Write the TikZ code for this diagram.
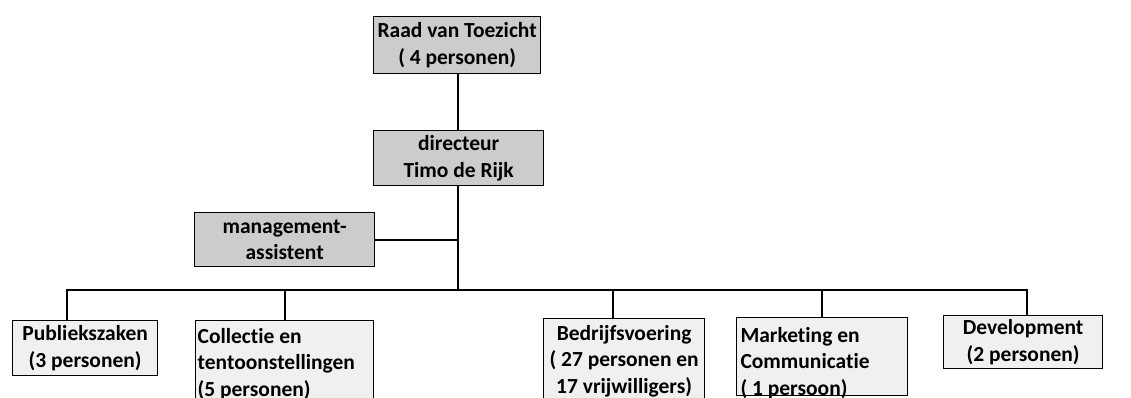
\documentclass[tikz,border=0pt]{standalone}
\usepackage{fontspec}
\setmainfont{Carlito}[Ligatures=NoCommon]
\begin{document}
\begin{tikzpicture}[x=1pt,y=-1pt,
  box/.style={draw, line width=1.3pt, anchor=north west, inner xsep=3pt, inner ysep=0pt,
    font=\bfseries\fontsize{21.5}{26.5}\selectfont, align=center},
  dark/.style={fill=black!20},
  light/.style={fill=black!6},
  txt/.style={inner sep=0pt, font=\bfseries\fontsize{21.5}{26.5}\selectfont},
  link/.style={line width=1.8pt}]
\useasboundingbox (0,0) rectangle (1131,398);
\clip (0,0) rectangle (1131,398);
% top part
\node[box,dark,minimum width=167pt,minimum height=57pt] (raad) at (373,16) {Raad van Toezicht\\( 4 personen)};
\node[box,dark,minimum width=170pt,minimum height=55pt] (dir) at (373,130) {directeur\\Timo de Rijk};
\node[box,dark,minimum width=180pt,minimum height=54pt] (mgmt) at (194,212) {management-\\assistent};
% bottom row
\node[box,light,minimum width=145pt,minimum height=55pt] (publ) at (12,320) {Publiekszaken\\(3 personen)};
\node[box,light,minimum width=178pt,minimum height=86pt,text width=174pt,align=flush left,inner xsep=2pt] (coll) at (195,320) {Collectie en\\tentoonstellingen\\(5 personen)};
\node[box,light,minimum width=161pt,minimum height=85pt] (bedr) at (543,318) {Bedrijfsvoering\\( 27 personen en\\17 vrijwilligers)};
\node[box,light,minimum width=171pt,minimum height=78pt] (mark) at (736,317) {};
\node[txt,text width=165pt,align=flush left] (markt) at (823,363) {Marketing en\\Communicatie\\( 1 persoon)};
\node[box,light,minimum width=159pt,minimum height=53pt] (dev) at (943,315) {Development\\(2 personen)};
% connectors
\coordinate (hub) at (458,290);
\coordinate (bL) at (67,290);
\coordinate (bB) at (613,290);
\coordinate (bR) at (1027,290);
\draw[link] (raad.south -| hub) -- (dir.north -| hub);
\draw[link] (dir.south -| hub) -- (hub);
\draw[link] (mgmt.east) -- (mgmt.east -| hub);
\draw[link] (publ.north west -| bL) -- (bL) -- (bR) -- (dev.north west -| bR);
\draw[link] (coll.north) -- (coll.north |- hub);
\draw[link] (bB) -- (bedr.north west -| bB);
\draw[link] (mark.north) -- (mark.north |- hub);
\end{tikzpicture}
\end{document}
